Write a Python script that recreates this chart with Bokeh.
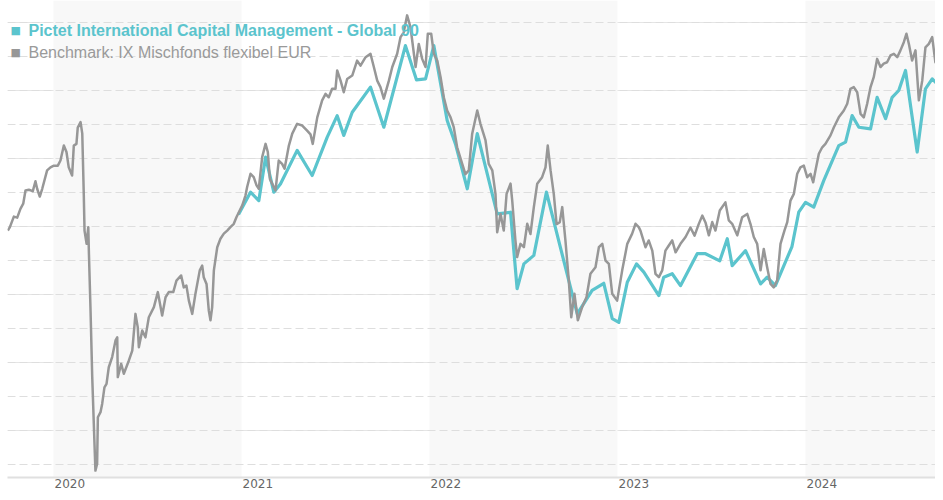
from bokeh.plotting import figure
from bokeh.models import (Range1d, FixedTicker, BoxAnnotation, Label, Grid,
                          NumeralTickFormatter)
from bokeh.embed import file_html
from bokeh.resources import INLINE

# ---- data (decimal years, index values) ----
bench_t = [2019.757, 2019.768, 2019.789, 2019.807, 2019.824, 2019.839, 2019.851, 2019.869, 2019.890, 2019.904,
           2019.913, 2019.927, 2019.940, 2019.966, 2019.984, 2020.002, 2020.023, 2020.037, 2020.055, 2020.069,
           2020.081, 2020.099, 2020.108, 2020.122, 2020.129, 2020.144, 2020.153, 2020.161, 2020.165, 2020.176,
           2020.185, 2020.188, 2020.197, 2020.206, 2020.218, 2020.223, 2020.232, 2020.236, 2020.250, 2020.259,
           2020.271, 2020.282, 2020.294, 2020.312, 2020.330, 2020.339, 2020.342, 2020.360, 2020.374, 2020.401,
           2020.419, 2020.436, 2020.448, 2020.454, 2020.472, 2020.489, 2020.507, 2020.534, 2020.543, 2020.555,
           2020.578, 2020.596, 2020.613, 2020.637, 2020.654, 2020.679, 2020.693, 2020.707, 2020.720, 2020.738,
           2020.755, 2020.778, 2020.791, 2020.799, 2020.814, 2020.826, 2020.835, 2020.844, 2020.853, 2020.871,
           2020.888, 2020.906, 2020.924, 2020.941, 2020.959, 2020.973, 2020.986, 2021.004, 2021.021, 2021.030,
           2021.048, 2021.065, 2021.080, 2021.092, 2021.110, 2021.128, 2021.140, 2021.151, 2021.163, 2021.181,
           2021.198, 2021.216, 2021.229, 2021.252, 2021.270, 2021.296, 2021.323, 2021.349, 2021.367, 2021.379,
           2021.403, 2021.429, 2021.447, 2021.464, 2021.482, 2021.500, 2021.509, 2021.527, 2021.544, 2021.562,
           2021.589, 2021.615, 2021.633, 2021.660, 2021.686, 2021.704, 2021.722, 2021.739, 2021.757, 2021.784,
           2021.802, 2021.828, 2021.846, 2021.863, 2021.881, 2021.899, 2021.908, 2021.926, 2021.943, 2021.961,
           2021.979, 2021.991, 2022.009, 2022.023, 2022.041, 2022.059, 2022.076, 2022.094, 2022.112, 2022.129,
           2022.147, 2022.174, 2022.191, 2022.209, 2022.227, 2022.254, 2022.271, 2022.298, 2022.315, 2022.334,
           2022.351, 2022.360, 2022.378, 2022.395, 2022.410, 2022.431, 2022.440, 2022.457, 2022.466, 2022.484,
           2022.502, 2022.520, 2022.537, 2022.555, 2022.573, 2022.599, 2022.617, 2022.629, 2022.644, 2022.661,
           2022.676, 2022.693, 2022.706, 2022.723, 2022.741, 2022.754, 2022.771, 2022.789, 2022.812, 2022.835,
           2022.856, 2022.883, 2022.901, 2022.919, 2022.936, 2022.954, 2022.972, 2022.998, 2023.025, 2023.052,
           2023.078, 2023.096, 2023.113, 2023.122, 2023.149, 2023.166, 2023.185, 2023.202, 2023.220, 2023.238,
           2023.255, 2023.273, 2023.291, 2023.309, 2023.335, 2023.362, 2023.388, 2023.410, 2023.432, 2023.451,
           2023.468, 2023.486, 2023.504, 2023.521, 2023.544, 2023.574, 2023.592, 2023.610, 2023.637, 2023.663,
           2023.690, 2023.707, 2023.725, 2023.743, 2023.761, 2023.778, 2023.796, 2023.814, 2023.831, 2023.849,
           2023.867, 2023.888, 2023.903, 2023.920, 2023.938, 2023.956, 2023.973, 2023.991, 2024.009, 2024.027,
           2024.041, 2024.053, 2024.071, 2024.089, 2024.106, 2024.133, 2024.151, 2024.177, 2024.204, 2024.222,
           2024.239, 2024.257, 2024.275, 2024.293, 2024.310, 2024.328, 2024.346, 2024.363, 2024.381, 2024.399,
           2024.416, 2024.434, 2024.452, 2024.470, 2024.488, 2024.505, 2024.523, 2024.537, 2024.550, 2024.567,
           2024.585, 2024.603, 2024.621, 2024.638, 2024.656, 2024.674, 2024.691, 2024.709, 2024.727, 2024.736]

bench_v = [98.8, 99.8, 102.9, 102.6, 105.2, 106.7, 110.6, 110.8, 110.4, 113.3,
           111.1, 108.8, 111.1, 116.5, 117.4, 117.9, 117.9, 119.4, 123.8, 121.9,
           117.4, 115.0, 123.8, 124.3, 129.1, 130.7, 127.3, 109.6, 98.8, 94.9,
           99.8, 92.9, 75.3, 55.7, 36.1, 28.2, 30.2, 43.9, 45.4, 47.9,
           52.7, 53.7, 58.6, 61.6, 66.5, 67.4, 55.7, 59.6, 56.7, 60.6,
           63.5, 74.3, 70.4, 64.5, 69.4, 67.4, 73.3, 76.3, 78.2, 80.7,
           73.8, 79.2, 80.7, 80.7, 84.1, 85.6, 82.1, 82.6, 78.2, 74.3,
           80.2, 87.1, 88.5, 85.1, 83.1, 75.3, 72.4, 76.3, 87.1, 93.9,
           96.4, 97.9, 98.8, 99.8, 100.8, 102.7, 104.2, 106.2, 109.1, 111.6,
           115.5, 114.5, 112.1, 111.1, 120.4, 124.3, 121.9, 114.0, 112.6, 110.6,
           119.4, 118.4, 117.0, 123.8, 127.3, 130.2, 129.7, 128.2, 127.1, 124.3,
           132.1, 137.1, 139.0, 138.0, 140.5, 140.5, 145.9, 142.9, 139.5, 143.4,
           144.4, 148.8, 147.3, 149.8, 150.8, 146.9, 142.9, 141.0, 137.6, 142.9,
           146.9, 150.8, 155.7, 157.1, 162.1, 158.6, 154.7, 146.9, 153.7, 149.3,
           146.9, 156.7, 156.7, 150.8, 148.8, 143.9, 138.0, 134.1, 132.1, 129.2,
           123.3, 118.4, 115.4, 116.5, 127.3, 134.1, 130.2, 125.3, 118.4, 116.5,
           109.6, 98.3, 103.7, 98.8, 109.6, 112.6, 107.6, 95.9, 91.0, 94.9,
           93.9, 100.8, 97.8, 105.7, 112.6, 114.5, 117.4, 123.8, 116.5, 109.6,
           100.7, 101.3, 105.7, 95.9, 84.1, 73.3, 80.2, 72.4, 76.3, 79.2,
           86.1, 88.0, 93.9, 94.9, 90.0, 89.0, 80.2, 78.2, 87.1, 94.9,
           97.9, 100.8, 99.8, 98.8, 93.9, 95.9, 92.9, 86.1, 85.1, 87.1,
           92.9, 94.4, 95.9, 92.4, 94.9, 96.9, 99.7, 97.3, 100.7, 103.2,
           101.2, 97.4, 101.3, 98.8, 104.7, 107.1, 101.8, 100.8, 97.4, 102.7,
           103.7, 100.8, 96.9, 94.9, 87.1, 93.4, 88.0, 83.1, 82.1, 84.1,
           94.9, 98.8, 101.3, 107.6, 109.6, 115.5, 117.4, 117.9, 114.5, 115.5,
           113.0, 116.5, 121.4, 123.3, 124.3, 126.8, 129.2, 132.1, 134.1, 136.1,
           140.5, 141.0, 139.5, 133.1, 132.1, 136.1, 141.0, 143.9, 149.3, 146.9,
           147.9, 148.3, 150.3, 150.8, 149.8, 151.8, 154.2, 156.7, 153.7, 148.8,
           151.8, 137.1, 142.9, 152.7, 153.7, 155.7, 148.3, 154.7, 157.6, 160.6]

fund_t = [2020.984, 2021.048, 2021.092, 2021.128, 2021.172, 2021.207, 2021.296, 2021.376, 2021.456, 2021.509,
          2021.544, 2021.589, 2021.686, 2021.757, 2021.872, 2021.931, 2021.979, 2022.023, 2022.094, 2022.138,
          2022.201, 2022.254, 2022.360, 2022.431, 2022.466, 2022.502, 2022.555, 2022.622, 2022.750, 2022.786,
          2022.865, 2022.927, 2022.972, 2023.007, 2023.052, 2023.101, 2023.140, 2023.220, 2023.246, 2023.291,
          2023.335, 2023.424, 2023.468, 2023.544, 2023.584, 2023.610, 2023.681, 2023.761, 2023.796, 2023.840,
          2023.928, 2023.964, 2024.000, 2024.044, 2024.097, 2024.177, 2024.213, 2024.248, 2024.284, 2024.346,
          2024.381, 2024.426, 2024.461, 2024.496, 2024.532, 2024.594, 2024.638, 2024.674, 2024.709, 2024.736]

fund_v = [103.5, 110.1, 107.6, 120.4, 110.1, 112.5, 122.4, 115.0, 126.3, 132.6,
          126.8, 133.6, 141.0, 129.2, 153.2, 143.1, 143.4, 153.2, 131.2, 124.3,
          111.1, 127.3, 103.7, 104.2, 81.7, 89.0, 91.5, 110.1, 82.1, 74.3,
          81.2, 83.3, 72.9, 71.8, 83.6, 89.0, 86.6, 79.7, 85.1, 86.1,
          82.6, 92.0, 92.0, 89.9, 96.4, 88.5, 92.9, 83.1, 85.1, 82.6,
          94.1, 104.2, 107.1, 105.7, 113.5, 123.8, 124.8, 132.6, 129.2, 128.7,
          138.0, 131.7, 138.0, 140.0, 145.9, 121.9, 140.5, 143.4, 141.5, 146.4]

years = [2020, 2021, 2022, 2023, 2024]
shaded_years = [2020, 2022, 2024]
grid_values = [30, 40, 50, 60, 70, 80, 90, 100, 110, 120, 130, 140, 150, 160]

fund_name = "Pictet International Capital Management - Global 90"
bench_name = "Benchmark: IX Mischfonds flexibel EUR"

TEAL = "#5bc4cd"
GRAY = "#979797"

W, H = 935, 492
LEFT, BOTTOM = 7, 15
frame_w = W - LEFT
frame_h = H - BOTTOM           # frame bottom sits at y = 477
X0, X1 = 2019.7553, 2024.6915
Y1 = 166.47
Y0 = Y1 - frame_h / 3.4 * 1.0  # 10 index points per 34 px

p = figure(width=W, height=H, output_backend="svg", toolbar_location=None,
           x_range=Range1d(X0, X1), y_range=Range1d(Y0, Y1),
           y_axis_location=None,
           min_border_left=LEFT, min_border_right=0, min_border_top=0,
           min_border_bottom=BOTTOM)
p.outline_line_color = None
p.background_fill_color = "white"
p.border_fill_color = "white"
p.xgrid.visible = False

for y in shaded_years:
    p.add_layout(BoxAnnotation(left=y, right=y + 1, fill_color="#f8f8f8", fill_alpha=1.0,
                               line_color=None, level="underlay"))

p.add_layout(Grid(dimension=1, ticker=FixedTicker(ticks=grid_values),
                  grid_line_color="#dedede", grid_line_dash="8 4", grid_line_width=1))

# year labels sit just right of each year start: tick placed at the label's centre
label_dx = 16.3 * (X1 - X0) / frame_w
ax = p.xaxis[0]
ax.ticker = FixedTicker(ticks=[y + label_dx for y in years])
ax.formatter = NumeralTickFormatter(format="0")
ax.major_tick_line_color = None
ax.minor_tick_line_color = None
ax.major_tick_out = 0
ax.major_tick_in = 0
ax.major_label_standoff = 1
ax.major_label_text_font = "DejaVu Sans"
ax.major_label_text_font_size = "12px"
ax.major_label_text_color = "#666666"
ax.axis_line_color = "#e0e0e0"
ax.axis_line_width = 2

p.line(fund_t, fund_v, line_color=TEAL, line_width=3.2, line_join="round")
p.line(bench_t, bench_v, line_color=GRAY, line_width=2.5, line_join="round")

# legend
row1, row2 = frame_h - 30, frame_h - 52
p.add_layout(Label(x=3, y=row1, x_units="screen", y_units="screen", text="■",
                   text_color=TEAL, text_font="DejaVu Sans", text_font_size="11px",
                   text_baseline="middle"))
p.add_layout(Label(x=21, y=row1, x_units="screen", y_units="screen", text=fund_name,
                   text_color=TEAL, text_font="Liberation Sans", text_font_style="bold",
                   text_font_size="16px", text_baseline="middle"))
p.add_layout(Label(x=3, y=row2, x_units="screen", y_units="screen", text="■",
                   text_color=GRAY, text_font="DejaVu Sans", text_font_size="11px",
                   text_baseline="middle"))
p.add_layout(Label(x=21, y=row2, x_units="screen", y_units="screen", text=bench_name,
                   text_color="#9a9a9a", text_font="Liberation Sans",
                   text_font_size="16px", text_baseline="middle"))

open("out.html", "w").write(file_html(p, INLINE))
